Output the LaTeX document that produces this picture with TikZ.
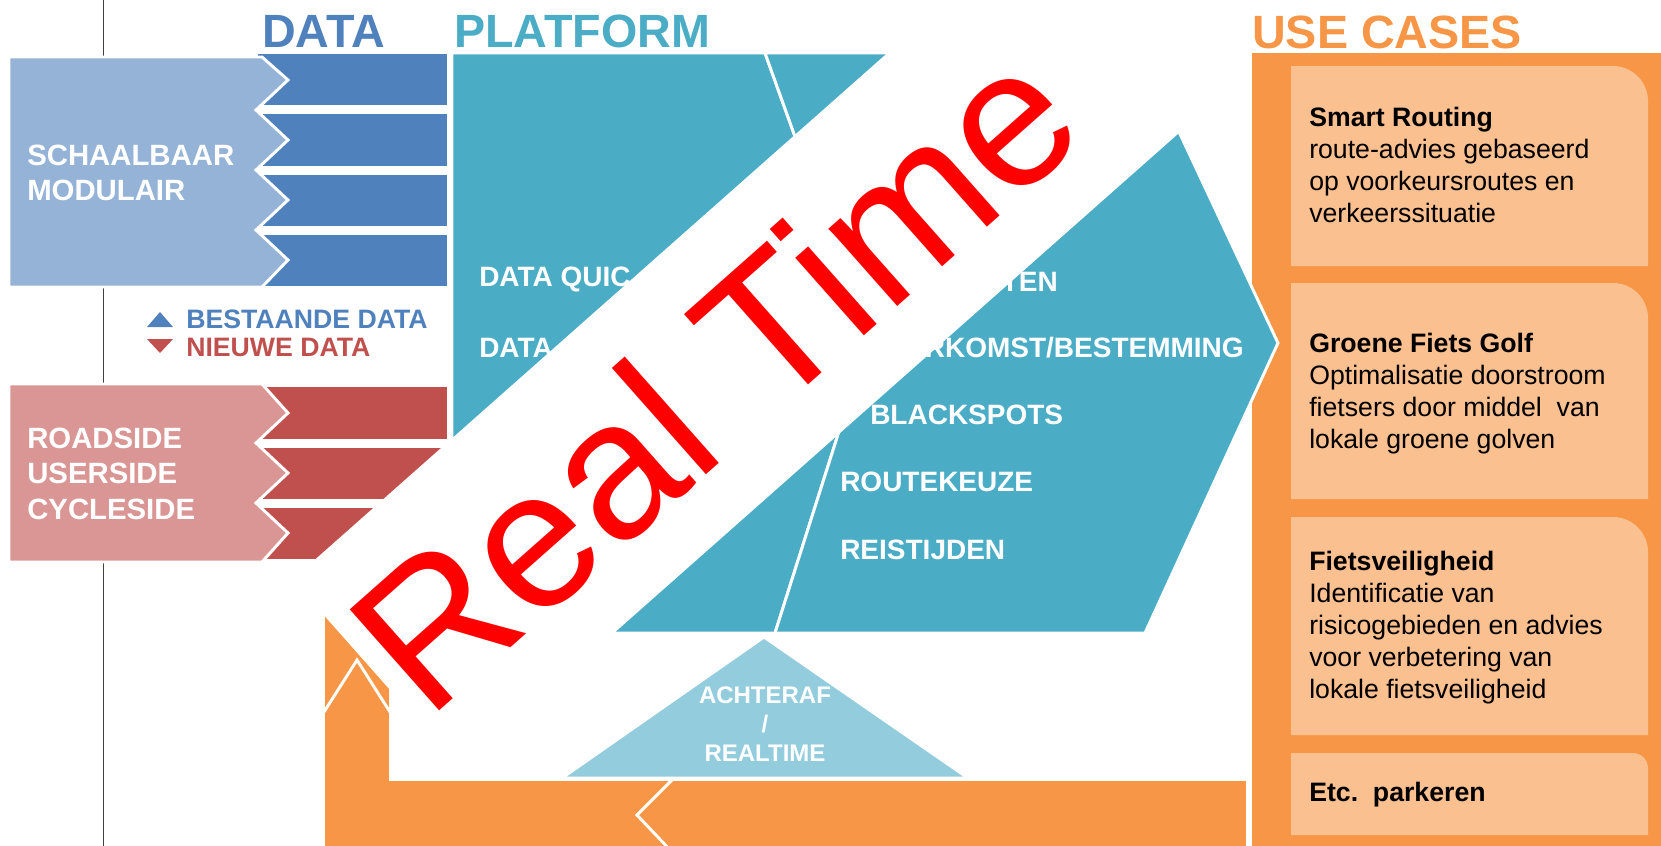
\documentclass[tikz,border=0pt]{standalone}
\usepackage{fontspec}
\setmainfont{Liberation Sans}
\usepackage{tikz}

\definecolor{datablue}{RGB}{79,129,189}
\definecolor{datablueL}{RGB}{149,179,215}
\definecolor{datared}{RGB}{192,80,77}
\definecolor{dataredL}{RGB}{217,150,148}
\definecolor{platteal}{RGB}{75,172,198}
\definecolor{plattealL}{RGB}{147,205,221}
\definecolor{useorange}{RGB}{247,150,70}
\definecolor{useorangeL}{RGB}{250,192,144}

\tikzset{
  gapline/.style={draw=white, line width=2.2pt},
  headtxt/.style={anchor=base west, inner sep=0pt, font=\fontsize{35}{40}\selectfont\bfseries},
  blocktxt/.style={anchor=base west, inner sep=0pt, text=white, font=\fontsize{22}{26}\selectfont\bfseries},
  legtxt/.style={anchor=base west, inner sep=0pt, font=\fontsize{20}{24}\selectfont\bfseries},
  plattxt/.style={inner sep=0pt, text=white, font=\fontsize{21}{25}\selectfont\bfseries},
  usetxt/.style={anchor=north west, inner sep=0pt, align=left, font=\fontsize{20}{24}\selectfont},
}

\begin{document}
\begin{tikzpicture}[x=0.75pt,y=0.75pt,yscale=-1,xscale=1]
\useasboundingbox (0,0) rectangle (1661,846);

%Straight Lines
\draw [color=black!75, line width=0.75pt] (103,0) -- (103,846);

%Shape: data bars, existing
\foreach \ya/\yb in {54/105, 114/166, 175/226, 235/286}
  \fill [datablue] (258,\ya) rectangle (447,\yb);
\draw [fill=datablueL, gapline] (9,57) -- (262,57) -- (288,80) -- (256,110) -- (288,140) -- (256,170) -- (288,200) -- (256,230) -- (288,260) -- (262,287) -- (9,287) -- cycle;

%Shape: data bars, new
\foreach \ya/\yb in {387/439, 448/499, 508/559}
  \fill [datared] (258,\ya) rectangle (447,\yb);
\draw [fill=dataredL, gapline] (9,384) -- (262,384) -- (288,413) -- (256,443) -- (288,473) -- (256,503) -- (288,533) -- (262,562) -- (9,562) -- cycle;

%Shape: legend marks
\fill [datablue] (147,327) -- (173,327) -- (160,312) -- cycle;
\fill [datared] (147,339) -- (173,339) -- (160,353) -- cycle;

%Shape: use case column
\fill [useorange] (1252,53) rectangle (1661,846);
\foreach \ya/\yb/\r in {66/266/35, 283/499/35, 517/735/35, 753/835/15}
  \fill [useorangeL] (1291,\yb) -- (1291,\ya) -- ({1648-\r},\ya) .. controls ({1648-0.448*\r},\ya) and (1648,{\ya+0.448*\r}) .. (1648,{\ya+\r}) -- (1648,\yb) -- cycle;

%Shape: feedback loop
\draw [fill=useorange, gapline] (324,600) -- (390,600) -- (390,780) -- (1247,780) -- (1247,852) -- (324,852) -- cycle;
\draw [gapline] (324,712) -- (357,660) -- (390,712);
\draw [gapline] (672,780) -- (637,815) -- (672,852);

%Shape: triangle
\draw [fill=plattealL, gapline] (764,637) -- (968,778) -- (562,778) -- cycle;

%Shape: platform
\draw [fill=platteal, gapline] (452,53) -- (765,53) -- (868,340) -- (775,633) -- (452,633) -- cycle;
\draw [fill=platteal, gapline] (765,53) -- (1142,53) -- (1278,343) -- (1145,633) -- (775,633) -- (868,340) -- cycle;

% Text Node
\node (pl1) [plattxt, anchor=base west] at (479,286) {DATA QUIC};
% Text Node
\node (pl2) [plattxt, anchor=base west] at (479,357) {DATA};
% Text Node
\node (pr1) [plattxt, anchor=base east] at (1058,291) {TEN};
% Text Node
\node (pr2) [plattxt, anchor=base east] at (1244,357) {RKOMST/BESTEMMING};
% Text Node
\node (pr3) [plattxt, anchor=base west] at (870,424) {BLACKSPOTS};
% Text Node
\node (pr4) [plattxt, anchor=base west] at (840,491) {ROUTEKEUZE};
% Text Node
\node (pr5) [plattxt, anchor=base west] at (840,559) {REISTIJDEN};

%Shape: real time band
\fill [white] (292.4,579.6) -- (460.2,769.2) -- (1234.7,83.7) -- (1066.9,-105.9) -- cycle;
% Text Node
\node (rt) [rotate=41.5, inner sep=0pt, text=red, font=\fontsize{147}{154}\selectfont] at (713,376) {Real Time};

% Text Node
\node (tdata) [headtxt, text=datablue] at (262,47) {DATA};
% Text Node
\node (tplat) [headtxt, text=platteal] at (454,47) {PLATFORM};
% Text Node
\node (tuse) [headtxt, text=useorange] at (1252,48) {USE CASES};

% Text Node
\node (sch1) [blocktxt] at (27,165) {SCHAALBAAR};
% Text Node
\node (sch2) [blocktxt] at (27,200) {MODULAIR};
% Text Node
\node (rs1) [blocktxt] at (27,448) {ROADSIDE};
% Text Node
\node (rs2) [blocktxt] at (27,483) {USERSIDE};
% Text Node
\node (rs3) [blocktxt] at (27,519) {CYCLESIDE};

% Text Node
\node (leg1) [legtxt, text=datablue] at (186,328) {BESTAANDE DATA};
% Text Node
\node (leg2) [legtxt, text=datared] at (186,356) {NIEUWE DATA};

% Text Node
\node (tri) [anchor=north, inner sep=0pt, align=center, text=white, font=\fontsize{18}{21.75}\selectfont\bfseries] at (765,686) {ACHTERAF\\/\\REALTIME};

% Text Node
\node (uc1) [usetxt] at (1309,107) {\textbf{Smart Routing}\\route-advies gebaseerd\\op voorkeursroutes en\\verkeerssituatie};
% Text Node
\node (uc2) [usetxt] at (1309,333) {\textbf{Groene Fiets Golf}\\Optimalisatie doorstroom\\fietsers door middel\ \ van\\lokale groene golven};
% Text Node
\node (uc3) [usetxt] at (1309,551) {\textbf{Fietsveiligheid}\\Identificatie van\\risicogebieden en advies\\voor verbetering van\\lokale fietsveiligheid};
% Text Node
\node (uc4) [usetxt] at (1309,782) {\textbf{Etc.\ \ parkeren}};

\end{tikzpicture}
\end{document}
